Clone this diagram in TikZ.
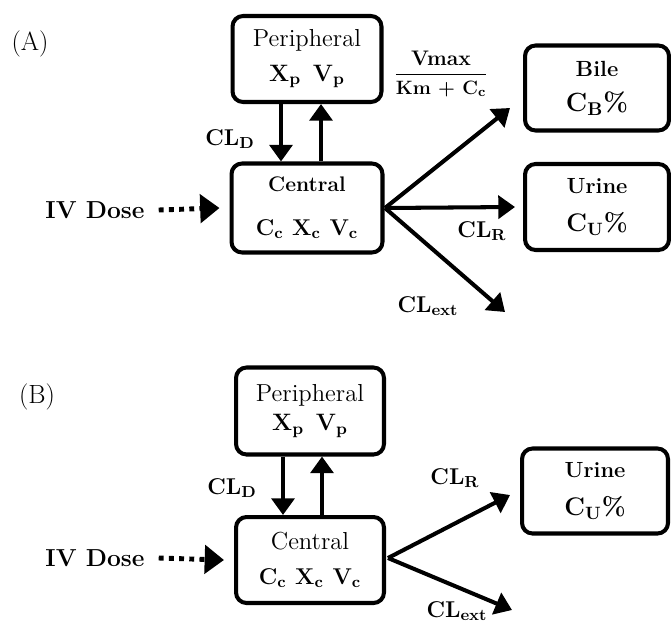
\documentclass[tikz,border=0pt]{standalone}
\usepackage{tikz}
\usetikzlibrary{arrows.meta, positioning, calc}

\begin{document}
\begin{tikzpicture}[x=0.02cm, y=-0.02cm,
  box/.style={draw, line width=2.3pt, rounded corners=6pt, align=center, inner sep=0pt},
  flow/.style={line width=2.3pt, -{Triangle[length=9.5pt, width=13pt]}},
  dose/.style={line width=2.8pt, dash pattern=on 2.8pt off 3pt, -{Triangle[length=11pt, width=16pt]}},
  lbl/.style={font=\fontsize{13}{15}\selectfont\bfseries}]
  \useasboundingbox (0,0) rectangle (671,622);

  % Panel A: two compartments with three elimination routes
  \node[font=\fontsize{15}{17}\selectfont] (labA) at (30,44) {(A)};
  \node[box, minimum width=2.98cm, minimum height=1.72cm] (periA) at (307,59)
    {\fontsize{14}{16}\selectfont Peripheral\\[7.5pt]
     \fontsize{13.5}{16}\selectfont\bfseries X\textsubscript{p}\enspace V\textsubscript{p}};
  \node[box, minimum width=3.02cm, minimum height=1.78cm] (centA) at (307,208)
    {\fontsize{12}{14}\selectfont\bfseries Central\\[13pt]
     \fontsize{13}{16}\selectfont\bfseries C\textsubscript{c} X\textsubscript{c} V\textsubscript{c}};
  \node[box, minimum width=2.88cm, minimum height=1.7cm] (bileA) at (597,88)
    {\fontsize{12.5}{14}\selectfont\bfseries Bile\\[8pt]
     \fontsize{15}{16}\selectfont\bfseries C\textsubscript{B}\%};
  \node[box, minimum width=2.88cm, minimum height=1.72cm] (urineA) at (597,207)
    {\fontsize{12.5}{14}\selectfont\bfseries Urine\\[10pt]
     \fontsize{14.5}{16}\selectfont\bfseries C\textsubscript{U}\%};
  \node[lbl, font=\fontsize{14}{16}\selectfont\bfseries] (ivA) at (95,210) {IV Dose};

  \coordinate (outA) at (385,208);
  \coordinate (tipBileA) at (510,108);
  \coordinate (tipUrineA) at (515,207);
  \coordinate (tipExtA) at (505,312);

  \draw[dose] ($(ivA.east)+(8,0)$) -- ($(centA.west)+(-10,0)$);
  \draw[flow] ($(periA.south)+(-26,0)$) -- ($(centA.north)+(-26,0)$);
  \draw[flow] ($(centA.north)+(14,0)$) -- ($(periA.south)+(14,0)$);
  \draw[flow] (outA) -- (tipBileA);
  \draw[flow] (outA) -- (tipUrineA);
  \draw[flow] (outA) -- (tipExtA);

  \node[lbl] (cldA) at (230,139) {CL\textsubscript{D}};
  \node[font=\fontsize{12}{14}\selectfont] (vmaxA) at (441,74)
    {$\displaystyle\frac{\textbf{Vmax}}{\textbf{\fontsize{11}{13}\selectfont Km + C\textsubscript{c}}}$};
  \node[lbl] (clrA) at (482,231) {CL\textsubscript{R}};
  \node[lbl] (clextA) at (428,306) {CL\textsubscript{ext}};

  % Panel B: same model without biliary route
  \node[font=\fontsize{15}{17}\selectfont] (labB) at (37,397) {(B)};
  \node[box, minimum width=2.96cm, minimum height=1.74cm] (periB) at (310,411)
    {\fontsize{14}{16}\selectfont Peripheral\\[5pt]
     \fontsize{13.5}{16}\selectfont\bfseries X\textsubscript{p}\enspace V\textsubscript{p}};
  \node[box, minimum width=2.96cm, minimum height=1.72cm] (centB) at (310,560)
    {\fontsize{14}{16}\selectfont Central\\[8pt]
     \fontsize{13}{16}\selectfont\bfseries C\textsubscript{c} X\textsubscript{c} V\textsubscript{c}};
  \node[box, minimum width=2.92cm, minimum height=1.7cm] (urineB) at (595,491)
    {\fontsize{12.5}{14}\selectfont\bfseries Urine\\[10pt]
     \fontsize{14.5}{16}\selectfont\bfseries C\textsubscript{U}\%};
  \node[lbl, font=\fontsize{14}{16}\selectfont\bfseries] (ivB) at (95,558) {IV Dose};

  \coordinate (outB) at (388,558);
  \coordinate (tipUrineB) at (510,495);
  \coordinate (tipExtB) at (512,610);

  \draw[dose] ($(ivB.east)+(8,0)$) -- ($(centB.west)+(-10,0)$);
  \draw[flow] ($(periB.south)+(-27,0)$) -- ($(centB.north)+(-27,0)$);
  \draw[flow] ($(centB.north)+(12,0)$) -- ($(periB.south)+(12,0)$);
  \draw[flow] (outB) -- (tipUrineB);
  \draw[flow] (outB) -- (tipExtB);

  \node[lbl] (cldB) at (232,488) {CL\textsubscript{D}};
  \node[lbl] (clrB) at (455,478) {CL\textsubscript{R}};
  \node[lbl] (clextB) at (457,611) {CL\textsubscript{ext}};
\end{tikzpicture}
\end{document}
